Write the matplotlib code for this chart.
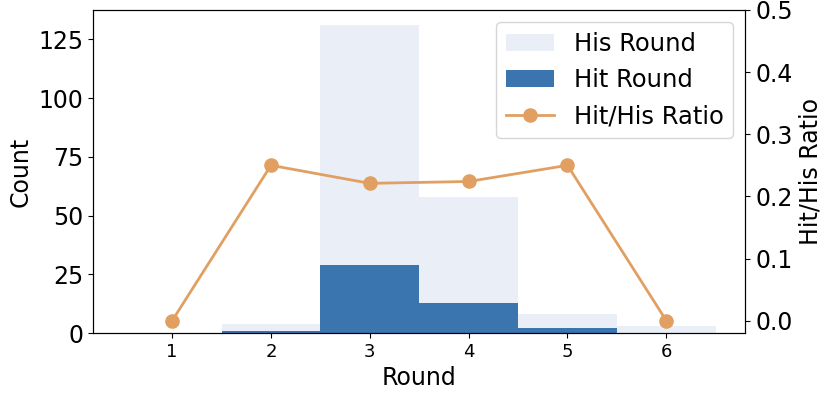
import numpy as np
import matplotlib.pyplot as plt

# data
rounds = [1, 2, 3, 4, 5, 6]
his_round = [0, 4, 131, 58, 8, 3]
hit_round = [0, 1, 29, 13, 2, 0]
ratio = [0.0, 0.25, 0.221, 0.224, 0.25, 0.0]

fig, ax = plt.subplots(figsize=(8.31, 3.98), dpi=100)
b1 = ax.bar(rounds, his_round, width=1.0, color='#eaeff7', label='His Round')
b2 = ax.bar(rounds, hit_round, width=1.0, color='#3a75af', label='Hit Round')
ax.set_xlabel('Round', fontsize=17)
ax.set_ylabel('Count', fontsize=17)
ax.tick_params(axis='y', labelsize=17)
ax.tick_params(axis='x', labelsize=13)
ax.set_yticks([0, 25, 50, 75, 100, 125])

ax2 = ax.twinx()
l1, = ax2.plot(rounds, ratio, color='#e1a062', marker='o', markersize=9.5,
               linewidth=2, label='Hit/His Ratio')
ax2.set_ylim(-0.02, 0.5)
ax2.set_ylabel('Hit/His Ratio', fontsize=17)
ax2.tick_params(axis='y', labelsize=17)

ax.legend(handles=[b1, b2, l1], loc='upper right', fontsize=17.5)

fig.subplots_adjust(left=0.112, right=0.897, top=0.975, bottom=0.163)
fig.savefig('out.png', dpi=100)
